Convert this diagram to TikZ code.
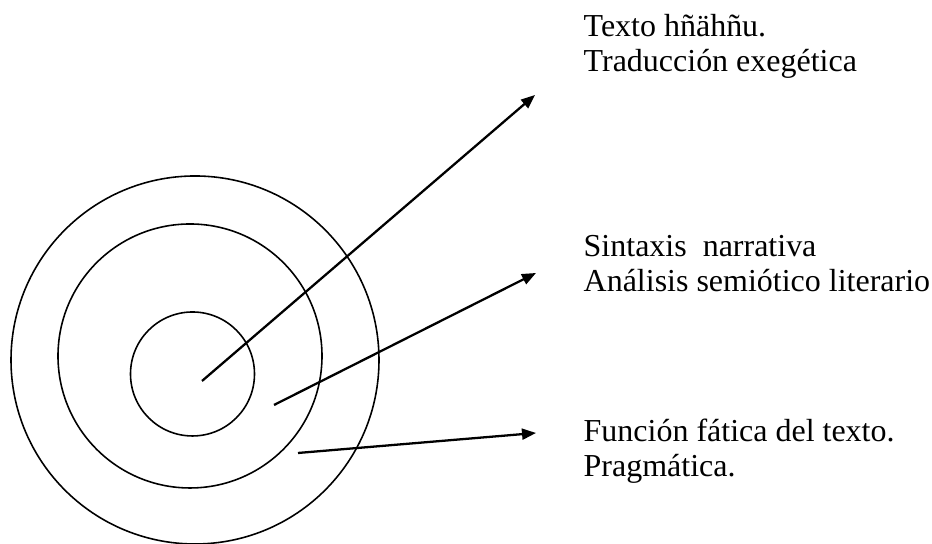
\documentclass[tikz,border=0pt]{standalone}
\usepackage{fontspec}
\setmainfont{Liberation Serif}
\usetikzlibrary{arrows.meta,positioning}

\tikzset{
    ring/.style={line width=0.45pt},
    pointer/.style={line width=0.65pt,-{Triangle[length=0.14cm,width=0.11cm]}},
    label/.style={anchor=base west,inner sep=0pt,align=left,font=\fontsize{9.1}{10.2}\selectfont}
}

\begin{document}
\begin{tikzpicture}
    \useasboundingbox (0,0) rectangle (9.32,5.44);
    % concentric circles
    \draw[ring] (1.95,1.84) circle (1.84);
    \draw[ring] (1.90,1.88) circle (1.32);
    \draw[ring] (1.925,1.70) circle (0.62);
    % labels
    \node[label] (texto) at (5.83,4.72) {Texto hñähñu.\\Traducción exegética};
    \node[label] (sintaxis) at (5.83,2.52) {Sintaxis\ \ narrativa\\Análisis semiótico literario};
    \node[label] (funcion) at (5.83,0.67) {Función fática del texto.\\Pragmática.};
    % arrows
    \coordinate (core) at (2.02,1.63);
    \coordinate (middle) at (2.74,1.39);
    \coordinate (outer) at (2.98,0.91);
    \coordinate (textotip) at (5.35,4.49);
    \coordinate (sintaxistip) at (5.36,2.71);
    \coordinate (funciontip) at (5.36,1.11);
    \draw[pointer] (core) -- (textotip);
    \draw[pointer] (middle) -- (sintaxistip);
    \draw[pointer] (outer) -- (funciontip);
\end{tikzpicture}
\end{document}
